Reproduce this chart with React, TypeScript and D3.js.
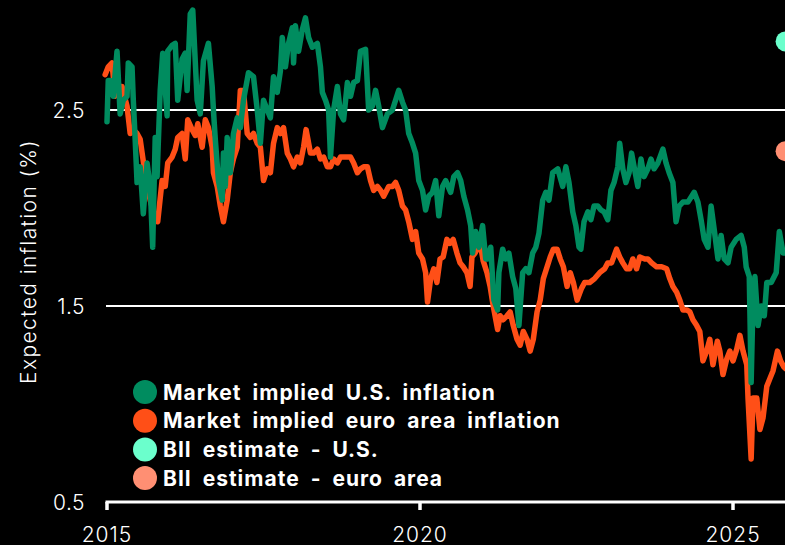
import React from "react";
import * as d3 from "d3";

const usYears = [2015.0,2015.02,2015.05,2015.1,2015.16,2015.21,2015.26,2015.32,2015.34,2015.4,2015.42,2015.45,2015.48,2015.53,2015.58,2015.64,2015.69,2015.73,2015.77,2015.8,2015.85,2015.89,2015.96,2015.97,2016.04,2016.09,2016.13,2016.2,2016.25,2016.28,2016.33,2016.37,2016.44,2016.49,2016.54,2016.62,2016.68,2016.7,2016.73,2016.78,2016.84,2016.86,2016.89,2016.92,2016.97,2017.02,2017.08,2017.13,2017.18,2017.26,2017.34,2017.4,2017.45,2017.5,2017.56,2017.61,2017.66,2017.72,2017.77,2017.8,2017.85,2017.9,2017.96,2017.98,2018.01,2018.06,2018.12,2018.17,2018.22,2018.28,2018.36,2018.41,2018.44,2018.49,2018.54,2018.57,2018.62,2018.68,2018.73,2018.78,2018.84,2018.89,2018.94,2019.0,2019.05,2019.13,2019.18,2019.24,2019.29,2019.34,2019.4,2019.48,2019.56,2019.66,2019.72,2019.77,2019.82,2019.88,2019.93,2019.98,2020.04,2020.09,2020.14,2020.2,2020.25,2020.3,2020.36,2020.41,2020.49,2020.54,2020.6,2020.65,2020.7,2020.76,2020.81,2020.84,2020.89,2020.94,2021.0,2021.05,2021.08,2021.13,2021.18,2021.24,2021.26,2021.32,2021.37,2021.42,2021.48,2021.53,2021.58,2021.64,2021.69,2021.74,2021.8,2021.85,2021.9,2021.96,2022.01,2022.06,2022.12,2022.2,2022.28,2022.33,2022.38,2022.44,2022.49,2022.54,2022.57,2022.62,2022.68,2022.73,2022.78,2022.84,2022.89,2022.94,2023.0,2023.05,2023.1,2023.16,2023.19,2023.24,2023.29,2023.34,2023.38,2023.42,2023.48,2023.53,2023.58,2023.64,2023.69,2023.74,2023.8,2023.88,2023.93,2023.98,2024.04,2024.09,2024.14,2024.2,2024.28,2024.38,2024.44,2024.49,2024.54,2024.6,2024.65,2024.7,2024.76,2024.81,2024.86,2024.92,2024.97,2025.05,2025.13,2025.18,2025.21,2025.26,2025.29,2025.32,2025.35,2025.4,2025.45,2025.5,2025.54,2025.61,2025.69,2025.74,2025.8,2025.85];
const usValues = [2.44,2.65,2.65,2.57,2.8,2.48,2.55,2.57,2.74,2.72,2.55,2.35,2.13,2.21,1.97,2.23,2.11,1.8,2.36,2.16,2.6,2.79,2.47,2.8,2.83,2.84,2.55,2.76,2.79,2.6,2.99,3.01,2.55,2.48,2.75,2.84,2.62,2.5,2.35,2.14,2.04,2.28,2.11,2.36,2.18,2.38,2.46,2.41,2.55,2.69,2.67,2.5,2.33,2.55,2.5,2.46,2.67,2.59,2.7,2.87,2.72,2.84,2.92,2.74,2.93,2.8,2.91,2.97,2.87,2.82,2.84,2.72,2.59,2.55,2.5,2.26,2.5,2.62,2.48,2.45,2.64,2.57,2.64,2.65,2.8,2.81,2.5,2.52,2.6,2.52,2.41,2.48,2.5,2.6,2.54,2.5,2.38,2.33,2.28,2.14,2.09,1.99,2.06,2.08,2.14,1.96,2.11,2.14,2.08,2.16,2.18,2.14,2.06,1.99,1.91,1.77,1.88,1.8,1.91,1.74,1.74,1.8,1.53,1.48,1.67,1.79,1.74,1.77,1.65,1.59,1.4,1.67,1.69,1.67,1.77,1.8,1.87,2.04,2.08,2.04,2.18,2.2,2.11,2.21,2.13,1.98,1.91,1.8,1.79,1.93,1.98,1.94,2.01,2.01,1.99,1.98,1.94,2.09,2.13,2.21,2.33,2.2,2.13,2.18,2.28,2.21,2.11,2.25,2.16,2.2,2.25,2.2,2.23,2.3,2.23,2.18,2.13,1.93,2.01,2.03,2.03,2.08,2.03,1.94,1.84,1.8,2.01,1.89,1.74,1.86,1.74,1.72,1.8,1.84,1.86,1.8,1.7,1.65,1.11,1.53,1.65,1.4,1.5,1.45,1.62,1.62,1.67,1.88,1.77,1.77];

const euroYears = [2014.97,2015.02,2015.08,2015.13,2015.18,2015.24,2015.32,2015.37,2015.42,2015.48,2015.53,2015.61,2015.69,2015.75,2015.81,2015.88,2015.93,2015.97,2016.04,2016.09,2016.13,2016.2,2016.25,2016.29,2016.36,2016.41,2016.45,2016.52,2016.57,2016.62,2016.68,2016.7,2016.76,2016.81,2016.86,2016.92,2016.97,2017.02,2017.08,2017.13,2017.18,2017.24,2017.29,2017.34,2017.4,2017.45,2017.5,2017.56,2017.61,2017.66,2017.72,2017.77,2017.82,2017.88,2017.93,2017.98,2018.04,2018.09,2018.14,2018.18,2018.25,2018.3,2018.36,2018.41,2018.46,2018.52,2018.57,2018.62,2018.68,2018.73,2018.84,2018.89,2018.94,2019.0,2019.05,2019.1,2019.16,2019.21,2019.26,2019.32,2019.37,2019.42,2019.5,2019.56,2019.61,2019.66,2019.72,2019.77,2019.82,2019.88,2019.93,2019.98,2020.04,2020.09,2020.12,2020.17,2020.22,2020.27,2020.32,2020.37,2020.43,2020.48,2020.53,2020.59,2020.64,2020.69,2020.75,2020.8,2020.83,2020.88,2020.96,2021.01,2021.07,2021.12,2021.17,2021.24,2021.28,2021.33,2021.39,2021.44,2021.49,2021.55,2021.6,2021.65,2021.71,2021.76,2021.81,2021.87,2021.92,2021.97,2022.03,2022.08,2022.13,2022.19,2022.24,2022.29,2022.35,2022.4,2022.45,2022.51,2022.58,2022.63,2022.71,2022.79,2022.87,2022.95,2023.0,2023.06,2023.14,2023.19,2023.24,2023.3,2023.35,2023.4,2023.46,2023.51,2023.59,2023.64,2023.7,2023.78,2023.86,2023.94,2023.99,2024.04,2024.1,2024.15,2024.2,2024.26,2024.31,2024.36,2024.42,2024.47,2024.52,2024.58,2024.63,2024.68,2024.75,2024.79,2024.84,2024.9,2024.95,2025.0,2025.06,2025.11,2025.16,2025.22,2025.24,2025.29,2025.32,2025.38,2025.43,2025.48,2025.54,2025.59,2025.64,2025.71,2025.76,2025.81,2025.84];
const euroValues = [2.68,2.72,2.74,2.57,2.62,2.62,2.52,2.38,2.4,2.38,2.35,2.17,2.04,1.97,1.93,2.14,2.11,2.23,2.26,2.3,2.36,2.38,2.25,2.45,2.4,2.37,2.43,2.31,2.45,2.41,2.31,2.18,2.11,2.01,1.93,2.04,2.18,2.25,2.31,2.6,2.6,2.38,2.36,2.38,2.33,2.31,2.14,2.2,2.18,2.33,2.41,2.38,2.41,2.28,2.25,2.21,2.26,2.23,2.31,2.4,2.28,2.28,2.3,2.25,2.26,2.21,2.21,2.25,2.23,2.26,2.26,2.26,2.23,2.18,2.2,2.21,2.21,2.14,2.09,2.11,2.09,2.06,2.11,2.11,2.13,2.09,2.01,1.99,1.93,1.84,1.88,1.77,1.74,1.67,1.52,1.64,1.69,1.62,1.74,1.75,1.84,1.82,1.84,1.77,1.72,1.7,1.67,1.6,1.75,1.77,1.82,1.73,1.67,1.6,1.5,1.38,1.45,1.43,1.45,1.47,1.4,1.33,1.3,1.37,1.33,1.27,1.33,1.47,1.53,1.64,1.7,1.75,1.79,1.79,1.74,1.7,1.6,1.67,1.62,1.53,1.59,1.62,1.62,1.64,1.67,1.69,1.72,1.72,1.79,1.75,1.72,1.69,1.69,1.74,1.69,1.75,1.74,1.74,1.72,1.7,1.7,1.69,1.64,1.6,1.57,1.53,1.48,1.48,1.47,1.43,1.4,1.37,1.22,1.27,1.33,1.2,1.32,1.27,1.15,1.23,1.27,1.22,1.28,1.35,1.27,1.2,1.03,0.72,1.03,1.03,0.87,0.93,1.09,1.13,1.17,1.27,1.22,1.19,1.18];

const biiYear = 2025.84;
const biiUS = 2.85;
const biiEuro = 2.29;

const yTicks = [0.5, 1.5, 2.5];
const xTicks = [2015, 2020, 2025];

const legendLabels = [
  "Market implied U.S. inflation",
  "Market implied euro area inflation",
  "BII estimate - U.S.",
  "BII estimate - euro area",
];
const colors = ["#008c5f", "#ff4f17", "#6bffcc", "#ff8f73"];

const W = 785;
const H = 545;
const FONT = "Inter, 'Open Sans', sans-serif";

export default function App() {
  const x = d3.scaleLinear().domain([2015, 2025]).range([107, 733]);
  const y = d3.scaleLinear().domain([0.5, 2.5]).range([502, 110]);
  const line = d3
    .line<[number, number]>()
    .x((d) => x(d[0]))
    .y((d) => y(d[1]))
    .curve(d3.curveLinear);
  const us: [number, number][] = usYears.map((t, i) => [t, usValues[i]]);
  const eu: [number, number][] = euroYears.map((t, i) => [t, euroValues[i]]);

  return (
    <svg
      width={W}
      height={H}
      style={{ position: "fixed", left: 0, top: 0, background: "#000", display: "block" }}
    >
      <rect x={0} y={0} width={W} height={H} fill="#000" />
      {yTicks.slice(1).map((v) => (
        <line key={v} x1={106} x2={W} y1={y(v)} y2={y(v)} stroke="#fff" strokeWidth={2} />
      ))}
      {yTicks.map((v) => (
        <text
          key={"yl" + v}
          x={85}
          y={y(v)}
          dy="0.36em"
          textAnchor="end"
          fill="#fff"
          fontFamily={FONT}
          fontWeight={300}
          fontSize={21}
          letterSpacing={0.5}
        >
          {v.toFixed(1)}
        </text>
      ))}
      <line x1={105.5} x2={W} y1={y(0.5)} y2={y(0.5)} stroke="#fff" strokeWidth={3} />
      {xTicks.map((t) => (
        <g key={"xt" + t}>
          <line x1={x(t)} x2={x(t)} y1={y(0.5)} y2={y(0.5) + 8} stroke="#fff" strokeWidth={3.5} />
          <text
            x={x(t)}
            y={542}
            textAnchor="middle"
            fill="#fff"
            fontFamily={FONT}
            fontWeight={300}
            fontSize={21}
            letterSpacing={1}
          >
            {t}
          </text>
        </g>
      ))}
      <text
        transform={`translate(36, 261.5) rotate(-90)`}
        textAnchor="middle"
        fill="#fff"
        fontFamily={FONT}
        fontWeight={300}
        fontSize={21}
        letterSpacing={1.4}
      >
        Expected inflation (%)
      </text>
      <path d={line(eu) || ""} fill="none" stroke={colors[1]} strokeWidth={5.5} strokeLinejoin="round" strokeLinecap="round" />
      <path d={line(us) || ""} fill="none" stroke={colors[0]} strokeWidth={5.5} strokeLinejoin="round" strokeLinecap="round" />
      <circle cx={x(biiYear)} cy={y(biiUS)} r={10} fill={colors[2]} />
      <circle cx={x(biiYear)} cy={y(biiEuro)} r={10} fill={colors[3]} />
      {legendLabels.map((lab, i) => (
        <g key={lab} transform={`translate(145, ${392 + i * 28.7})`}>
          <circle cx={0} cy={0} r={12} fill={colors[i]} />
          <text
            x={18}
            y={0}
            dy="0.36em"
            fill="#fff"
            fontFamily={FONT}
            fontWeight={700}
            fontSize={21}
            letterSpacing={1}
            wordSpacing={5}
          >
            {lab}
          </text>
        </g>
      ))}
    </svg>
  );
}
